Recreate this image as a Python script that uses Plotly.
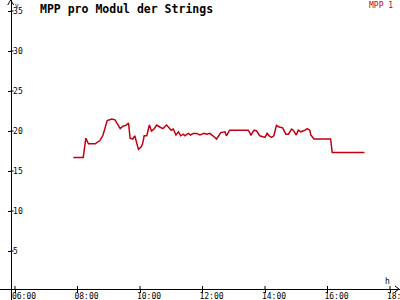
import plotly.graph_objects as go

DAY = "2024-01-01 "
times = ["07:52", "08:11", "08:16", "08:21", "08:34", "08:43", "08:49", "08:57", "09:06", "09:12",
         "09:22", "09:27", "09:33", "09:38", "09:41", "09:46", "09:50", "09:52", "09:57", "10:02",
         "10:05", "10:08", "10:13", "10:18", "10:22", "10:27", "10:32", "10:38", "10:44", "10:51",
         "10:56", "11:00", "11:04", "11:09", "11:14", "11:18", "11:23", "11:26", "11:33", "11:37",
         "11:42", "11:49", "11:55", "12:03", "12:09", "12:14", "12:20", "12:27", "12:35", "12:43",
         "12:46", "12:51", "12:52", "13:28", "13:33", "13:39", "13:44", "13:50", "13:57", "14:00",
         "14:04", "14:08", "14:13", "14:17", "14:22", "14:27", "14:34", "14:40", "14:45", "14:51",
         "14:54", "15:00", "15:04", "15:09", "15:17", "15:21", "15:26", "15:28", "15:34", "16:06",
         "16:09", "17:11"]
mpp1 = [16.7, 16.7, 19.1, 18.4, 18.4, 18.8, 19.5, 21.3, 21.5, 21.4,
        20.3, 20.6, 20.7, 21.0, 19.1, 19.0, 19.4, 18.9, 17.7, 18.0,
        18.4, 19.4, 19.4, 20.75, 20.0, 20.25, 20.75, 20.5, 20.3, 20.75,
        20.3, 20.1, 20.25, 19.5, 19.9, 19.4, 19.6, 19.4, 19.7, 19.5,
        19.7, 19.7, 19.5, 19.7, 19.6, 19.7, 19.4, 19.0, 19.8, 19.9,
        19.4, 20.0, 20.1, 20.1, 19.5, 20.1, 20.0, 19.4, 19.3, 19.2,
        19.7, 19.4, 19.2, 19.4, 20.7, 20.5, 20.4, 19.6, 19.6, 20.25,
        20.1, 19.5, 20.1, 19.9, 20.1, 20.3, 20.1, 19.5, 19.0, 19.0,
        17.3, 17.3]
x_ticks = ["06:00", "08:00", "10:00", "12:00", "14:00", "16:00", "18:00"]
y_ticks = [5, 10, 15, 20, 25, 30, 35]
title = "MPP pro Modul der Strings"
series_name = "MPP 1"
RED = "#c00010"
MONO = "DejaVu Sans Mono"

fig = go.Figure()
fig.add_trace(go.Scatter(x=[DAY + t for t in times], y=mpp1, mode="lines", name=series_name,
                         line=dict(color=RED, width=1.5), showlegend=False))

YPOS = 10.7 / 400
XPOS = 11 / 300

fig.update_layout(
    width=400, height=300,
    margin=dict(l=0, r=0, t=0, b=0),
    paper_bgcolor="white", plot_bgcolor="white",
    font=dict(family=MONO, size=8, color="black"),
    title=dict(text="<b>" + title + "</b>", x=40 / 400, xanchor="left", y=1 - 9 / 300, yanchor="middle",
               font=dict(family=MONO, size=11.5, color="black")),
    xaxis=dict(range=[DAY + "05:31:12", DAY + "18:19:12"], anchor="free", position=XPOS,
               showgrid=False, zeroline=False, showline=True, linecolor="black", linewidth=1,
               ticks="outside", ticklen=3, tickcolor="black", tickwidth=1,
               tickvals=[DAY + t for t in x_ticks], ticktext=x_ticks, ticklabelshift=9,
               ticklabelstandoff=-4,
               ticklabeloverflow="allow", automargin=False,
               tickfont=dict(family=MONO, size=8, color="black")),
    yaxis=dict(range=[-1.125, 36.375], anchor="free", position=YPOS,
               showgrid=False, zeroline=False, showline=True, linecolor="black", linewidth=1,
               ticks="outside", ticklen=3, tickcolor="black", tickwidth=1,
               tickvals=y_ticks, ticklabelposition="inside", ticklabeloverflow="allow", automargin=False,
               tickfont=dict(family=MONO, size=8, color="black")),
)

# inner halves of tick crosses on both axes
for v in y_ticks:
    fig.add_shape(type="line", xref="paper", yref="y", xsizemode="pixel", xanchor=YPOS,
                  x0=0, x1=3, y0=v, y1=v, line=dict(color="black", width=1))
for t in x_ticks:
    fig.add_shape(type="line", xref="x", yref="paper", ysizemode="pixel", yanchor=XPOS,
                  x0=DAY + t, x1=DAY + t, y0=0, y1=3, line=dict(color="black", width=1))

# arrow heads
fig.add_shape(type="path", xref="paper", yref="paper", xsizemode="pixel", ysizemode="pixel",
              xanchor=YPOS, yanchor=1, path="M -3,-5 L 0,0 L 3,-5", line=dict(color="black", width=1))
fig.add_shape(type="path", xref="paper", yref="paper", xsizemode="pixel", ysizemode="pixel",
              xanchor=1, yanchor=XPOS, path="M -5,3 L -1,0 L -5,-3", line=dict(color="black", width=1))

fig.add_annotation(text="V", xref="paper", yref="paper", x=13 / 400, y=1,
                   xanchor="left", yanchor="top", showarrow=False, font=dict(family=MONO, size=6))
fig.add_annotation(text="h", xref="paper", yref="paper", x=387 / 400, y=(300 - 281) / 300,
                   xanchor="center", yanchor="middle", showarrow=False, font=dict(family=MONO, size=8))
fig.add_annotation(text=series_name, xref="paper", yref="paper", x=395 / 400, y=1 - 5 / 300,
                   xanchor="right", yanchor="middle", showarrow=False,
                   font=dict(family=MONO, size=8, color=RED))

fig.write_html("out.html", post_script="document.body.style.overflow='hidden';")
